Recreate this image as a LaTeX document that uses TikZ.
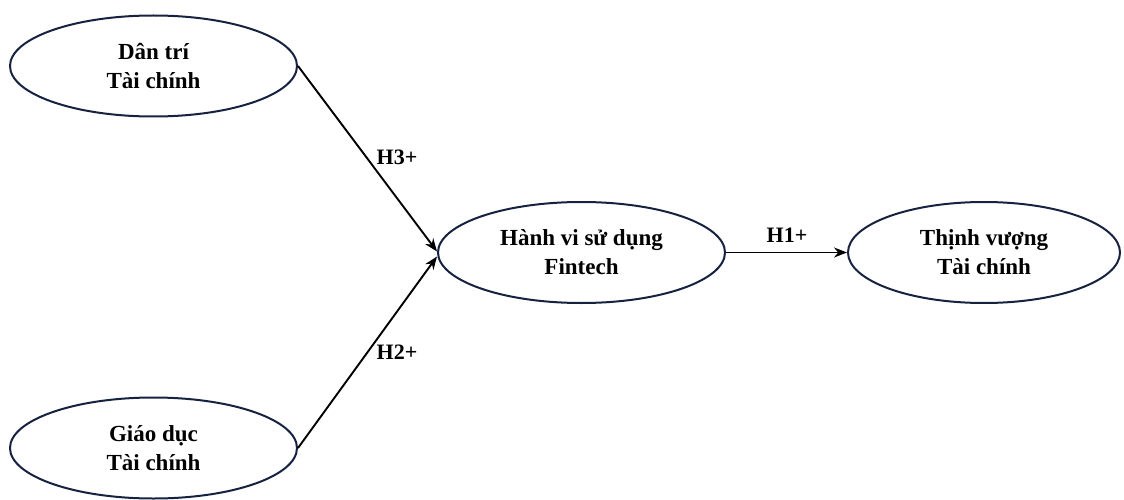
\documentclass[tikz,border=0pt]{standalone}
\usepackage{fontspec}
\setmainfont{Liberation Serif}
\usetikzlibrary{shapes.geometric,arrows.meta}
\definecolor{edgenavy}{RGB}{22,34,64}
\tikzset{
  construct/.style={ellipse, draw=edgenavy, line width=2pt, inner sep=0pt,
    minimum width=287pt, minimum height=101pt, align=center,
    font=\bfseries\fontsize{23}{29}\selectfont},
  link/.style={draw=black, line width=1.9pt, -{Stealth[length=13pt,width=10pt]}},
  hyp/.style={font=\bfseries\fontsize{22}{24}\selectfont, inner sep=0pt}
}
\begin{document}
\begin{tikzpicture}[x=1pt,y=-1pt]
\useasboundingbox (0,0) rectangle (1124,500);
\node[construct] (D) at (153.5,66) {Dân trí\\Tài chính};
\node[construct] (G) at (153.5,448) {Giáo dục\\Tài chính};
\node[construct] (H) at (581.5,252.5) {Hành vi sử dụng\\Fintech};
\node[construct, minimum width=272pt] (T) at (984,252.5) {Thịnh vượng\\Tài chính};
\draw[link] (D.east) -- ([yshift=1pt]H.west);
\draw[link] (G.east) -- ([yshift=-4pt]H.west);
\draw[link] (H.east) -- (T.west);
\node[hyp] (l3) at (397,157) {H3+};
\node[hyp] (l2) at (397,352) {H2+};
\node[hyp] (l1) at (787,235) {H1+};
\end{tikzpicture}
\end{document}
